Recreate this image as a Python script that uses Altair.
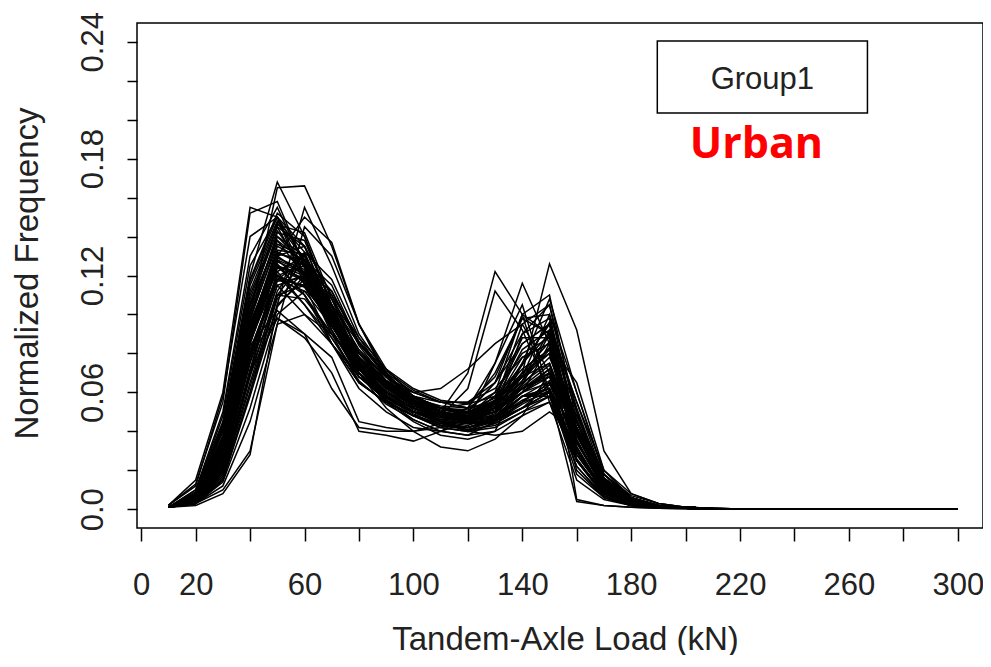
import altair as alt
import pandas as pd

# Axle-load bins (kN)
X_LOAD = [10, 20, 30, 40, 50, 60, 70, 80, 90, 100, 110, 120, 130, 140, 150,
          160, 170, 180, 190, 200, 210, 220, 230, 240, 250, 260, 270, 280, 290, 300]

# Normalized frequency per site, bins 10..220 kN
CURVES = [
    [0.001,0.010,0.045,0.120,0.168,0.140,0.105,0.075,0.060,0.052,0.047,0.045,0.050,0.062,0.070,0.030,0.010,0.004,0.002,0.001,0.0005,0.0002],
    [0.002,0.015,0.060,0.155,0.150,0.120,0.090,0.065,0.055,0.048,0.042,0.040,0.048,0.060,0.065,0.025,0.008,0.003,0.001,0.001,0.0004,0.0002],
    [0.002,0.013,0.055,0.152,0.158,0.125,0.095,0.068,0.058,0.050,0.044,0.042,0.046,0.055,0.060,0.022,0.006,0.002,0.001,0.0005,0.0003,0.0002],
    [0.001,0.006,0.030,0.100,0.165,0.166,0.135,0.095,0.068,0.052,0.045,0.040,0.042,0.050,0.055,0.030,0.010,0.004,0.002,0.001,0.0004,0.0002],
    [0.001,0.004,0.020,0.070,0.130,0.150,0.137,0.095,0.070,0.055,0.045,0.040,0.038,0.040,0.050,0.040,0.018,0.006,0.002,0.001,0.0004,0.0002],
    [0.001,0.004,0.022,0.075,0.115,0.100,0.085,0.065,0.055,0.048,0.050,0.070,0.122,0.100,0.055,0.015,0.005,0.002,0.001,0.0005,0.0003,0.0002],
    [0.001,0.005,0.025,0.080,0.120,0.105,0.088,0.068,0.056,0.050,0.048,0.062,0.112,0.092,0.060,0.018,0.006,0.002,0.001,0.0005,0.0003,0.0002],
    [0.001,0.003,0.015,0.060,0.110,0.115,0.095,0.070,0.055,0.045,0.038,0.036,0.040,0.070,0.126,0.092,0.030,0.008,0.003,0.001,0.0005,0.0002],
    [0.001,0.004,0.020,0.070,0.120,0.110,0.088,0.066,0.054,0.046,0.040,0.038,0.045,0.075,0.108,0.060,0.018,0.005,0.002,0.001,0.0004,0.0002],
    [0.001,0.006,0.030,0.085,0.125,0.110,0.085,0.062,0.050,0.042,0.040,0.045,0.075,0.116,0.085,0.025,0.007,0.002,0.001,0.0005,0.0003,0.0002],
    [0.001,0.003,0.012,0.045,0.095,0.100,0.090,0.075,0.065,0.058,0.055,0.055,0.065,0.085,0.095,0.055,0.020,0.008,0.003,0.001,0.0005,0.0002],
    [0.001,0.004,0.025,0.080,0.098,0.088,0.070,0.040,0.038,0.035,0.040,0.048,0.060,0.100,0.110,0.045,0.010,0.003,0.001,0.0005,0.0003,0.0002],
    [0.001,0.008,0.040,0.110,0.145,0.120,0.095,0.075,0.062,0.054,0.050,0.048,0.052,0.060,0.068,0.030,0.010,0.004,0.002,0.001,0.0004,0.0002],
    [0.001,0.007,0.035,0.100,0.140,0.130,0.100,0.078,0.065,0.056,0.050,0.046,0.048,0.055,0.065,0.035,0.012,0.004,0.002,0.001,0.0004,0.0002],
    [0.001,0.005,0.028,0.090,0.130,0.135,0.110,0.080,0.066,0.056,0.050,0.046,0.046,0.052,0.060,0.040,0.014,0.005,0.002,0.001,0.0004,0.0002],
    [0.001,0.006,0.032,0.095,0.125,0.120,0.098,0.076,0.064,0.056,0.052,0.050,0.054,0.065,0.075,0.038,0.012,0.004,0.002,0.001,0.0004,0.0002],
    [0.001,0.004,0.022,0.080,0.120,0.125,0.105,0.082,0.068,0.058,0.052,0.050,0.055,0.070,0.080,0.042,0.014,0.005,0.002,0.001,0.0004,0.0002],
    [0.001,0.009,0.048,0.125,0.150,0.128,0.098,0.072,0.058,0.050,0.045,0.043,0.048,0.058,0.060,0.025,0.008,0.003,0.001,0.0005,0.0003,0.0002],
    [0.001,0.003,0.018,0.065,0.110,0.128,0.115,0.085,0.068,0.058,0.052,0.048,0.050,0.060,0.072,0.042,0.015,0.006,0.002,0.001,0.0004,0.0002],
    [0.001,0.005,0.030,0.092,0.135,0.128,0.100,0.070,0.058,0.050,0.045,0.044,0.052,0.075,0.090,0.035,0.010,0.003,0.001,0.0005,0.0003,0.0002],
    [0.001,0.006,0.032,0.098,0.142,0.138,0.105,0.074,0.060,0.050,0.045,0.042,0.045,0.058,0.062,0.028,0.009,0.003,0.001,0.0005,0.0003,0.0002],
    [0.001,0.004,0.024,0.082,0.118,0.112,0.094,0.074,0.064,0.057,0.053,0.052,0.060,0.080,0.088,0.040,0.012,0.004,0.002,0.001,0.0004,0.0002],
    [0.001,0.007,0.038,0.105,0.138,0.120,0.092,0.068,0.057,0.050,0.046,0.046,0.055,0.078,0.085,0.030,0.009,0.003,0.001,0.0005,0.0003,0.0002],
    [0.001,0.003,0.016,0.060,0.105,0.118,0.110,0.088,0.072,0.062,0.056,0.054,0.058,0.068,0.075,0.038,0.012,0.005,0.002,0.001,0.0004,0.0002],
    [0.001,0.005,0.026,0.088,0.128,0.122,0.096,0.072,0.060,0.052,0.048,0.047,0.052,0.068,0.100,0.060,0.018,0.005,0.002,0.001,0.0004,0.0002],
    [0.001,0.006,0.030,0.090,0.132,0.125,0.100,0.076,0.062,0.053,0.048,0.045,0.050,0.090,0.098,0.030,0.008,0.003,0.001,0.0005,0.0003,0.0002],
    [0.001,0.004,0.020,0.072,0.115,0.120,0.100,0.078,0.064,0.055,0.050,0.048,0.055,0.095,0.105,0.040,0.010,0.003,0.001,0.0005,0.0003,0.0002],
    [0.001,0.008,0.042,0.115,0.148,0.132,0.100,0.072,0.058,0.048,0.042,0.040,0.044,0.052,0.058,0.026,0.008,0.003,0.001,0.0005,0.0003,0.0002],
    [0.001,0.003,0.014,0.052,0.100,0.112,0.105,0.085,0.070,0.060,0.055,0.055,0.062,0.078,0.085,0.045,0.015,0.005,0.002,0.001,0.0004,0.0002],
    [0.001,0.005,0.028,0.088,0.125,0.118,0.095,0.075,0.063,0.055,0.050,0.048,0.058,0.085,0.095,0.030,0.008,0.003,0.001,0.0005,0.0003,0.0002],
    [0.001,0.006,0.030,0.090,0.130,0.120,0.095,0.072,0.060,0.052,0.048,0.050,0.065,0.100,0.090,0.005,0.002,0.001,0.0005,0.0003,0.0002,0.0002],
    [0.001,0.005,0.026,0.085,0.125,0.118,0.092,0.070,0.058,0.050,0.047,0.052,0.075,0.105,0.060,0.004,0.002,0.001,0.0005,0.0003,0.0002,0.0002],
    [0.001,0.006,0.032,0.095,0.132,0.126,0.100,0.070,0.052,0.040,0.032,0.030,0.036,0.048,0.070,0.045,0.014,0.005,0.002,0.001,0.0004,0.0002],
    [0.001,0.004,0.020,0.070,0.110,0.108,0.090,0.072,0.065,0.060,0.062,0.072,0.085,0.095,0.070,0.020,0.006,0.002,0.001,0.0005,0.0003,0.0002],
    [0.001,0.007,0.036,0.102,0.140,0.126,0.098,0.076,0.062,0.054,0.049,0.047,0.050,0.062,0.072,0.035,0.011,0.004,0.002,0.001,0.0004,0.0002],
    [0.001,0.005,0.028,0.086,0.124,0.122,0.102,0.080,0.066,0.057,0.052,0.049,0.052,0.064,0.078,0.045,0.014,0.005,0.002,0.001,0.0004,0.0002],
    [0.001,0.010,0.050,0.130,0.155,0.125,0.092,0.068,0.056,0.048,0.043,0.042,0.046,0.058,0.062,0.025,0.008,0.003,0.001,0.0005,0.0003,0.0002],
    [0.002,0.012,0.058,0.140,0.150,0.115,0.085,0.065,0.055,0.048,0.044,0.042,0.047,0.058,0.058,0.022,0.007,0.002,0.001,0.0005,0.0003,0.0002],
    [0.001,0.003,0.010,0.030,0.095,0.145,0.130,0.095,0.072,0.058,0.050,0.045,0.045,0.052,0.060,0.045,0.016,0.006,0.002,0.001,0.0004,0.0002],
    [0.001,0.002,0.008,0.028,0.105,0.155,0.125,0.090,0.070,0.056,0.048,0.044,0.045,0.055,0.065,0.042,0.014,0.005,0.002,0.001,0.0004,0.0002],
    [0.001,0.004,0.022,0.078,0.118,0.128,0.112,0.084,0.066,0.056,0.050,0.047,0.050,0.060,0.070,0.040,0.013,0.005,0.002,0.001,0.0004,0.0002],
    [0.001,0.006,0.034,0.096,0.128,0.116,0.094,0.074,0.063,0.056,0.052,0.050,0.056,0.072,0.082,0.036,0.010,0.003,0.001,0.0005,0.0003,0.0002],
    [0.001,0.005,0.030,0.092,0.122,0.105,0.085,0.068,0.060,0.054,0.052,0.054,0.068,0.098,0.090,0.030,0.008,0.003,0.001,0.0005,0.0003,0.0002],
    [0.001,0.007,0.040,0.108,0.145,0.135,0.102,0.074,0.059,0.050,0.044,0.041,0.043,0.050,0.058,0.030,0.010,0.004,0.002,0.001,0.0004,0.0002],
    [0.001,0.004,0.018,0.068,0.112,0.132,0.118,0.088,0.068,0.056,0.048,0.044,0.044,0.052,0.064,0.048,0.018,0.007,0.003,0.001,0.0005,0.0002],
    [0.001,0.006,0.032,0.094,0.126,0.110,0.090,0.074,0.064,0.056,0.050,0.046,0.048,0.060,0.085,0.065,0.020,0.006,0.002,0.001,0.0004,0.0002],
    [0.001,0.005,0.027,0.086,0.120,0.114,0.096,0.078,0.066,0.056,0.050,0.047,0.050,0.066,0.092,0.055,0.016,0.005,0.002,0.001,0.0004,0.0002],
    [0.001,0.008,0.044,0.118,0.152,0.140,0.104,0.072,0.056,0.046,0.040,0.038,0.040,0.048,0.055,0.025,0.008,0.003,0.001,0.0005,0.0003,0.0002],
    [0.001,0.004,0.024,0.080,0.118,0.115,0.098,0.080,0.068,0.060,0.055,0.052,0.054,0.062,0.068,0.040,0.014,0.005,0.002,0.001,0.0004,0.0002],
    [0.001,0.006,0.034,0.098,0.136,0.130,0.104,0.078,0.063,0.054,0.048,0.045,0.048,0.058,0.066,0.034,0.011,0.004,0.002,0.001,0.0004,0.0002],
    [0.001,0.007,0.036,0.104,0.146,0.142,0.108,0.076,0.060,0.051,0.046,0.044,0.047,0.056,0.062,0.030,0.010,0.004,0.002,0.001,0.0004,0.0002],
    [0.001,0.005,0.027,0.088,0.131,0.128,0.102,0.077,0.064,0.055,0.050,0.048,0.053,0.068,0.083,0.040,0.012,0.004,0.002,0.001,0.0004,0.0002],
    [0.001,0.004,0.021,0.076,0.122,0.130,0.108,0.080,0.064,0.054,0.048,0.046,0.050,0.064,0.090,0.050,0.015,0.005,0.002,0.001,0.0004,0.0002],
    [0.001,0.006,0.033,0.097,0.138,0.127,0.097,0.070,0.057,0.050,0.046,0.046,0.056,0.082,0.092,0.032,0.009,0.003,0.001,0.0005,0.0003,0.0002],
    [0.001,0.003,0.017,0.063,0.108,0.122,0.112,0.086,0.069,0.058,0.052,0.050,0.053,0.066,0.082,0.048,0.016,0.006,0.002,0.001,0.0004,0.0002],
    [0.001,0.008,0.041,0.112,0.147,0.128,0.096,0.070,0.058,0.050,0.045,0.044,0.049,0.062,0.070,0.030,0.009,0.003,0.001,0.0005,0.0003,0.0002],
    [0.001,0.005,0.025,0.084,0.102,0.090,0.062,0.042,0.040,0.040,0.044,0.052,0.070,0.098,0.100,0.040,0.010,0.003,0.001,0.0005,0.0003,0.0002],
    [0.001,0.004,0.019,0.070,0.098,0.090,0.078,0.045,0.042,0.040,0.042,0.050,0.065,0.090,0.105,0.050,0.012,0.004,0.002,0.001,0.0004,0.0002],
    [0.001,0.006,0.031,0.093,0.133,0.131,0.104,0.078,0.063,0.054,0.049,0.047,0.051,0.063,0.074,0.038,0.012,0.004,0.002,0.001,0.0004,0.0002],
    [0.001,0.005,0.029,0.089,0.127,0.121,0.099,0.077,0.065,0.056,0.051,0.049,0.054,0.070,0.086,0.045,0.013,0.004,0.002,0.001,0.0004,0.0002],
    [0.001,0.007,0.037,0.106,0.143,0.124,0.094,0.072,0.060,0.052,0.047,0.046,0.052,0.070,0.080,0.032,0.009,0.003,0.001,0.0005,0.0003,0.0002],
    [0.001,0.004,0.023,0.079,0.117,0.119,0.101,0.081,0.068,0.058,0.052,0.049,0.054,0.075,0.095,0.042,0.011,0.004,0.002,0.001,0.0004,0.0002],
    [0.001,0.006,0.031,0.092,0.129,0.123,0.098,0.074,0.061,0.053,0.049,0.048,0.058,0.088,0.088,0.025,0.007,0.002,0.001,0.0005,0.0003,0.0002],
    [0.001,0.005,0.026,0.087,0.124,0.117,0.095,0.075,0.063,0.056,0.052,0.051,0.057,0.074,0.096,0.052,0.014,0.004,0.002,0.001,0.0004,0.0002],
    [0.001,0.008,0.043,0.117,0.150,0.135,0.101,0.073,0.058,0.049,0.043,0.041,0.045,0.054,0.061,0.028,0.009,0.003,0.001,0.0005,0.0003,0.0002],
    [0.001,0.003,0.015,0.058,0.104,0.120,0.108,0.086,0.071,0.061,0.055,0.052,0.055,0.068,0.080,0.046,0.016,0.006,0.002,0.001,0.0004,0.0002],
]
# Values for bins 230..300 kN (all sites essentially zero)
TAIL = [0.0002, 0.0002, 0.0002, 0.0001, 0.0001, 0.0001, 0.0001, 0.0001]

X_TICKS = [0, 20, 40, 60, 80, 100, 120, 140, 160, 180, 200, 220, 240, 260, 280, 300]
Y_TICKS = [0, 0.02, 0.04, 0.06, 0.08, 0.10, 0.12, 0.14, 0.16, 0.18, 0.20, 0.22, 0.24]

rows = []
for i, c in enumerate(CURVES):
    vals = c + TAIL
    for x, v in zip(X_LOAD, vals):
        rows.append({"curve": i, "load": x, "freq": v})
df = pd.DataFrame(rows)

FONT = "Liberation Sans"

xscale = alt.Scale(domain=[-1.54, 309.25], nice=False, zero=False)
yscale = alt.Scale(domain=[-0.0096, 0.2496], nice=False, zero=False)

lines = alt.Chart(df).mark_line(color="black", strokeWidth=1.5).encode(
    x=alt.X("load:Q", scale=xscale, axis=alt.Axis(
        values=X_TICKS,
        labelExpr="(datum.value == 0 || (datum.value - 20) % 40 == 0) ? datum.label : ''",
        tickSize=13, tickWidth=1.5, tickColor="black",
        labelPadding=29, labelFontSize=31, labelFont=FONT, labelColor="#222",
        labelOverlap=False, labelFlush=False,
        title="Tandem-Axle Load (kN)", titleFontSize=33, titleFont=FONT,
        titleFontWeight="normal", titleColor="#222",
        titleBaseline="alphabetic", titleAlign="center", titleX=428, titleY=121,
        domain=False, grid=False)),
    y=alt.Y("freq:Q", scale=yscale, axis=alt.Axis(
        values=Y_TICKS,
        labelExpr="datum.value == 0 ? '0.0' : (round(datum.value * 100) % 6 == 0 ? format(datum.value, '.2f') : '')",
        tickSize=10, tickWidth=1.5, tickColor="black",
        labelAngle=270, labelAlign="center", labelBaseline="alphabetic",
        labelPadding=25, labelFontSize=31, labelFont=FONT, labelColor="#222",
        labelOverlap=False, labelFlush=False,
        title="Normalized Frequency", titleFontSize=33, titleFont=FONT,
        titleFontWeight="normal", titleColor="#222",
        titleAngle=270, titleBaseline="alphabetic", titleAlign="center",
        titleX=-100, titleY=250,
        domain=False, grid=False)),
    detail="curve:N",
)

one = pd.DataFrame({"k": [0]})

box = alt.Chart(one).mark_rect(fill="white", stroke="black", strokeWidth=1.5).encode(
    x=alt.datum(189.6), x2=alt.datum(266.8),
    y=alt.datum(0.2404), y2=alt.datum(0.2034),
)

group_txt = alt.Chart(one).mark_text(
    text="Group1", font=FONT, fontSize=31, color="#222",
    align="center", baseline="middle",
).encode(x=alt.datum(228.2), y=alt.datum(0.2203))

urban_txt = alt.Chart(one).mark_text(
    text="Urban", font="Open Sans", fontSize=43, fontWeight="bold", color="#ff0000",
    align="center", baseline="middle",
).encode(x=alt.datum(226.0), y=alt.datum(0.187))

chart = alt.layer(lines, box, group_txt, urban_txt).properties(
    width=846, height=505,
    autosize=alt.AutoSizeParams(type="none"),
    padding={"left": 129, "top": 15, "right": 0, "bottom": 127},
    background="white",
).configure_view(stroke="black", strokeWidth=1.5)

chart.save("out.html", embed_options={"renderer": "svg", "actions": False})
